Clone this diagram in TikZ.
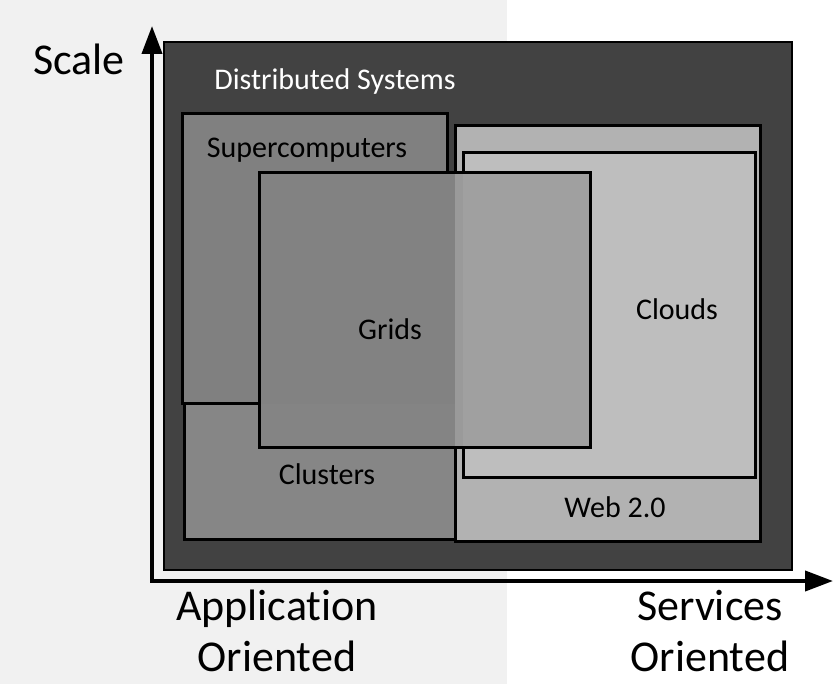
\documentclass[tikz,border=0pt]{standalone}
\usepackage{fontspec}
\setmainfont{Carlito}[Ligatures=NoCommon]
\usetikzlibrary{arrows.meta}
\definecolor{leftbg}{HTML}{F1F1F1}
\definecolor{distfill}{HTML}{424242}
\definecolor{superfill}{HTML}{808080}
\definecolor{clustfill}{HTML}{868686}
\definecolor{webfill}{HTML}{B2B2B2}
\definecolor{cloudfill}{HTML}{BEBEBE}
\definecolor{gridfill}{HTML}{848484}
\begin{document}
\begin{tikzpicture}[x=1pt,y=-1pt,
    box/.style={draw=black,line width=3pt},
    axis/.style={line width=4pt,-{Triangle[length=28pt,width=20pt]}},
    lbl/.style={anchor=base,font=\fontsize{30}{36}\selectfont},
    big/.style={anchor=base,align=center,inner sep=0pt,font=\fontsize{44}{51}\selectfont}]
    \useasboundingbox (0,0) rectangle (833,684);
    \fill[leftbg] (0,0) rectangle (507,684);
    %boxes
    \draw[fill=distfill,line width=1.5pt] (164,42) rectangle (792,570);
    \draw[box,fill=clustfill] (184,404) rectangle (455,539);
    \draw[box,fill=superfill] (182,114) rectangle (447,404);
    \draw[box,fill=webfill] (455,126) rectangle (760,541);
    \draw[box,fill=cloudfill] (463,153) rectangle (755,478);
    %grids sits on top, half see-through
    \begin{scope}
      \clip (259,173) rectangle (590,448);
      \fill[clustfill] (184,404) rectangle (455,539);
      \fill[superfill] (182,114) rectangle (455,404);
      \fill[webfill] (455,126) rectangle (760,541);
      \fill[cloudfill] (463,153) rectangle (755,478);
      \fill[gridfill,opacity=.5] (259,173) rectangle (590,448);
    \end{scope}
    \draw[box] (259,173) rectangle (590,448);
    %labels
    \node[lbl,text=white] (dist) at (335,90) {Distributed Systems};
    \node[lbl] (super) at (307,158) {Supercomputers};
    \node[lbl] (grids) at (390,340) {Grids};
    \node[lbl] (clust) at (327,485) {Clusters};
    \node[lbl] (clouds) at (677,320) {Clouds};
    \node[lbl] (web) at (615,518) {Web 2.0};
    \node[big] (scale) at (79,75) {Scale};
    \node[big] (appl) at (277,671) {Application\\Oriented};
    \node[big] (serv) at (710,671) {Services\\Oriented};
    %axes
    \coordinate (origin) at (150,581);
    \coordinate (ytop) at (152,26);
    \coordinate (xend) at (833,581);
    \draw[axis] (origin) -- (origin -| ytop) -- (ytop);
    \draw[axis] (origin) -- (xend);
  \end{tikzpicture}
\end{document}
